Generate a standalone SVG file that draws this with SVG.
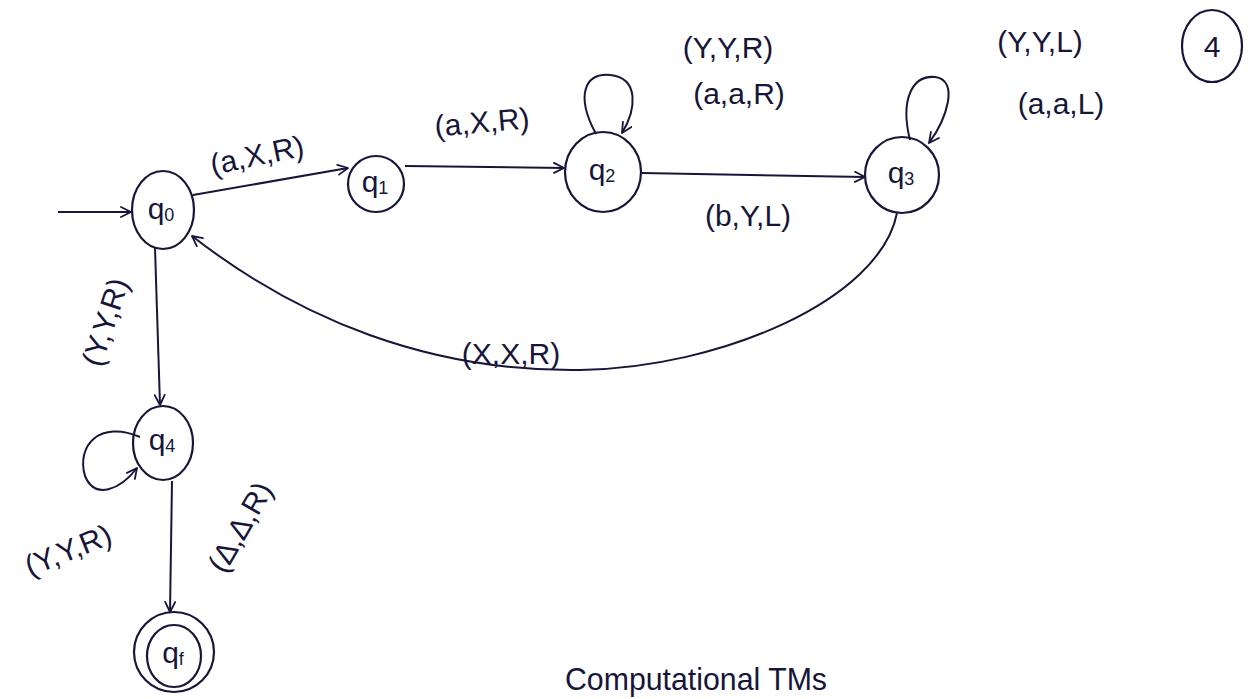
<svg xmlns="http://www.w3.org/2000/svg" width="1256" height="699" viewBox="0 0 1256 699">
<defs>
<marker id="arr" viewBox="0 0 12 12" refX="11" refY="6" markerWidth="12" markerHeight="12" markerUnits="userSpaceOnUse" orient="auto">
<path d="M1,1 L11,6 L1,11" fill="none" stroke="#16163a" stroke-width="1.8" stroke-linecap="round" stroke-linejoin="round"/>
</marker>
<style>
.st{fill:none;stroke:#16163a;stroke-width:2.2}
.ed{fill:none;stroke:#16163a;stroke-width:2;marker-end:url(#arr)}
.lb{font-family:"Liberation Sans","Open Sans",sans-serif;font-size:30px;fill:#16163a;text-anchor:middle;dominant-baseline:central}
.nl{font-family:"Liberation Sans","Open Sans",sans-serif;font-size:30px;fill:#16163a;text-anchor:middle;dominant-baseline:central}
.sub{font-size:18px}
</style>
</defs>
<rect width="1256" height="699" fill="#ffffff"/>

<g id="connectors">
<line class="ed" x1="58" y1="212" x2="131" y2="212"/>
<path class="ed" d="M193 195 L348 168"/>
<path class="ed" d="M405 166 L564 168"/>
<path class="ed" d="M642 173 L865 177"/>
<path class="ed" d="M596 134 C575 95 585 73 610 75 C640 78 636 110 622 133"/>
<path class="ed" d="M910 140 C900 100 912 75 935 77 C960 80 946 120 929 143"/>
<path class="ed" d="M897 213 C880 300 720 368 580 370 C430 372 300 320 192 236"/>
<path class="ed" d="M155 248 L160 405"/>
<path class="ed" d="M140 437 C100 420 76 445 85 476 C95 500 120 490 137 468"/>
<path class="ed" d="M172 481 L170 612"/>
</g>

<g id="edge-labels">
<text class="lb" x="257" y="155" transform="rotate(-12 257 155)">(a,X,R)</text>
<text class="lb" x="482" y="122" transform="rotate(-5 482 122)">(a,X,R)</text>
<text class="lb" x="728" y="47">(Y,Y,R)</text>
<text class="lb" x="739" y="93">(a,a,R)</text>
<text class="lb" x="748" y="215">(b,Y,L)</text>
<text class="lb" x="1040" y="41">(Y,Y,L)</text>
<text class="lb" x="1061" y="103">(a,a,L)</text>
<text class="lb" x="511" y="353">(X,X,R)</text>
<text class="lb" x="105" y="322" transform="rotate(-72 105 322)">(Y,Y,R)</text>
<text class="lb" x="68" y="550" transform="rotate(-22 68 550)">(Y,Y,R)</text>
<text class="lb" x="240" y="527" transform="rotate(-60 240 527)">(Δ,Δ,R)</text>
</g>

<g id="q0">
<ellipse class="st" cx="163" cy="210" rx="31" ry="39"/>
<text class="nl" x="161" y="208">q<tspan class="sub" dy="7">0</tspan></text>
</g>
<g id="q1">
<circle class="st" cx="376" cy="184" r="28"/>
<text class="nl" x="375" y="181">q<tspan class="sub" dy="7">1</tspan></text>
</g>
<g id="q2">
<ellipse class="st" cx="603" cy="172" rx="38" ry="40"/>
<text class="nl" x="602" y="169">q<tspan class="sub" dy="7">2</tspan></text>
</g>
<g id="q3">
<ellipse class="st" cx="902" cy="175" rx="37" ry="38"/>
<text class="nl" x="901" y="172">q<tspan class="sub" dy="7">3</tspan></text>
</g>
<g id="q4">
<ellipse class="st" cx="163" cy="443" rx="30" ry="37"/>
<text class="nl" x="162" y="439">q<tspan class="sub" dy="7">4</tspan></text>
</g>
<g id="qf">
<circle class="st" cx="174" cy="652" r="40"/>
<ellipse class="st" cx="174" cy="656" rx="27" ry="31"/>
<text class="nl" x="173" y="652">q<tspan class="sub" dy="7">f</tspan></text>
</g>
<g id="page-number">
<ellipse class="st" cx="1212" cy="46" rx="30" ry="36"/>
<text class="lb" x="1212" y="46">4</text>
</g>
<g id="title">
<text x="565" y="690" font-family="Liberation Sans, Open Sans, sans-serif" font-size="32" fill="#16163a" textLength="262" lengthAdjust="spacingAndGlyphs">Computational TMs</text>
</g>
</svg>
